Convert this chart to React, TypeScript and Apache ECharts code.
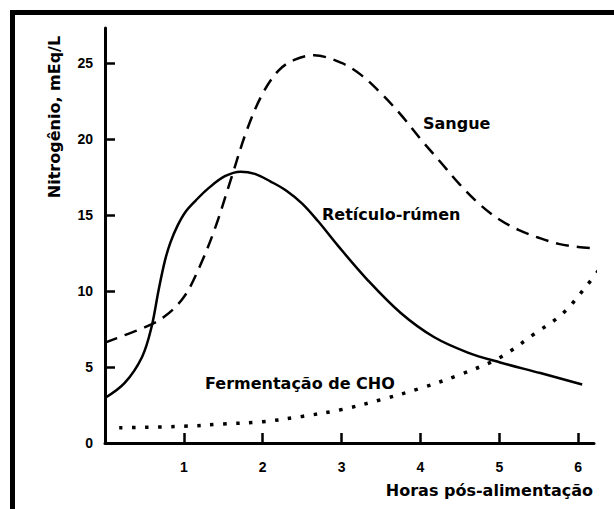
import React, { useEffect, useRef } from "react";
import * as echarts from "echarts";

const xTicks = [1, 2, 3, 4, 5, 6];
const yTicks = [0, 5, 10, 15, 20, 25];

const reticuloRumen: [number, number][] = [
  [0, 2.96], [0.25, 3.95], [0.47, 5.66], [0.59, 7.63], [0.68, 10.07], [0.76, 12.0],
  [0.83, 13.2], [0.92, 14.3], [1.02, 15.2], [1.15, 15.95], [1.31, 16.75], [1.52, 17.55],
  [1.72, 17.85], [1.9, 17.7], [2.1, 17.2], [2.3, 16.6], [2.5, 15.75], [2.7, 14.6],
  [2.95, 13.0], [3.33, 10.72], [3.75, 8.55], [4.17, 6.97], [4.6, 5.95], [5.01, 5.3],
  [5.52, 4.6], [6.05, 3.85],
];

const sangue: [number, number][] = [
  [0, 6.6], [0.25, 7.1], [0.5, 7.6], [0.75, 8.3], [1.0, 9.6], [1.2, 11.6], [1.4, 14.2],
  [1.6, 17.4], [1.8, 20.6], [2.0, 23.0], [2.2, 24.5], [2.4, 25.2], [2.65, 25.5],
  [3.0, 25.0], [3.25, 24.2], [3.5, 23.0], [3.75, 21.6], [4.0, 20.0], [4.25, 18.5],
  [4.5, 17.0], [4.75, 15.7], [5.0, 14.7], [5.25, 14.0], [5.5, 13.5], [5.75, 13.1],
  [6.0, 12.9], [6.24, 12.8],
];

const fermentacao: [number, number][] = [
  [0.18, 1.0], [1, 1.1], [1.5, 1.25], [2, 1.4], [2.5, 1.75], [3, 2.2], [3.5, 2.85],
  [4, 3.6], [4.5, 4.5], [5, 5.6], [5.45, 7.2], [5.8, 8.5], [6.1, 10.3], [6.38, 12.2],
];

const FONT = "'Liberation Sans', Arial, sans-serif";
const WIDE = "'DejaVu Sans', sans-serif";

export default function App() {
  const ref = useRef<HTMLDivElement>(null);
  useEffect(() => {
    if (!ref.current) return;
    const chart = echarts.init(ref.current, null, { renderer: "svg" });
    const lineBase = { type: "line", showSymbol: false, smooth: 0.35, clip: false, silent: true };
    chart.setOption({
      animation: false,
      backgroundColor: "#ffffff",
      grid: { left: 105, right: 20, top: 28, bottom: 66, containLabel: false },
      xAxis: {
        type: "value",
        min: 0,
        max: 6.2,
        interval: 1,
        axisLine: { show: true, lineStyle: { color: "#000", width: 3 } },
        axisTick: { show: true, inside: true, length: 10, lineStyle: { color: "#000", width: 2.5 }, customValues: xTicks },
        axisLabel: {
          customValues: xTicks,
          color: "#000", fontFamily: FONT, fontWeight: "bold", fontSize: 14, margin: 17,
        },
        splitLine: { show: false },
      },
      yAxis: {
        type: "value",
        min: 0,
        max: 27.3,
        interval: 5,
        axisLine: { show: true, lineStyle: { color: "#000", width: 3 } },
        axisTick: { show: true, inside: true, length: 10, lineStyle: { color: "#000", width: 2.5 }, customValues: yTicks.filter((v) => v > 0) },
        axisLabel: {
          customValues: yTicks,
          color: "#000", fontFamily: FONT, fontWeight: "bold", fontSize: 14, margin: 12,
        },
        splitLine: { show: false },
      },
      series: [
        { ...lineBase, name: "Sangue", data: sangue, lineStyle: { color: "#000", width: 2.5, type: [13, 8] } },
        { ...lineBase, name: "Retículo-rúmen", data: reticuloRumen, lineStyle: { color: "#000", width: 2.5, type: "solid" } },
        { ...lineBase, name: "Fermentação de CHO", data: fermentacao, lineStyle: { color: "#000", width: 3.5, type: [3.5, 9.5] } },
      ],
      graphic: [
        { type: "rect", shape: { x: 10, y: 10, width: 5, height: 499 }, style: { fill: "#000" } },
        { type: "rect", shape: { x: 10, y: 10, width: 604, height: 5 }, style: { fill: "#000" } },
        {
          type: "text", x: 54, y: 117, rotation: Math.PI / 2,
          style: { text: "Nitrogênio, mEq/L", fill: "#000", font: `bold 16px ${WIDE}`, align: "center", verticalAlign: "middle" },
        },
        {
          type: "text", x: 593, y: 490,
          style: { text: "Horas pós-alimentação", fill: "#000", font: `bold 16px ${WIDE}`, align: "right", verticalAlign: "middle" },
        },
        {
          type: "text", x: 423, y: 123,
          style: { text: "Sangue", fill: "#000", font: `bold 16px ${WIDE}`, align: "left", verticalAlign: "middle" },
        },
        {
          type: "text", x: 322, y: 214,
          style: { text: "Retículo-rúmen", fill: "#000", font: `bold 16px ${WIDE}`, align: "left", verticalAlign: "middle" },
        },
        {
          type: "text", x: 205, y: 383,
          style: { text: "Fermentação de CHO", fill: "#000", font: `bold 16px ${WIDE}`, align: "left", verticalAlign: "middle" },
        },
      ],
    });
    return () => chart.dispose();
  }, []);
  return <div ref={ref} style={{ position: "absolute", left: 0, top: 0, width: 614, height: 509 }} />;
}
